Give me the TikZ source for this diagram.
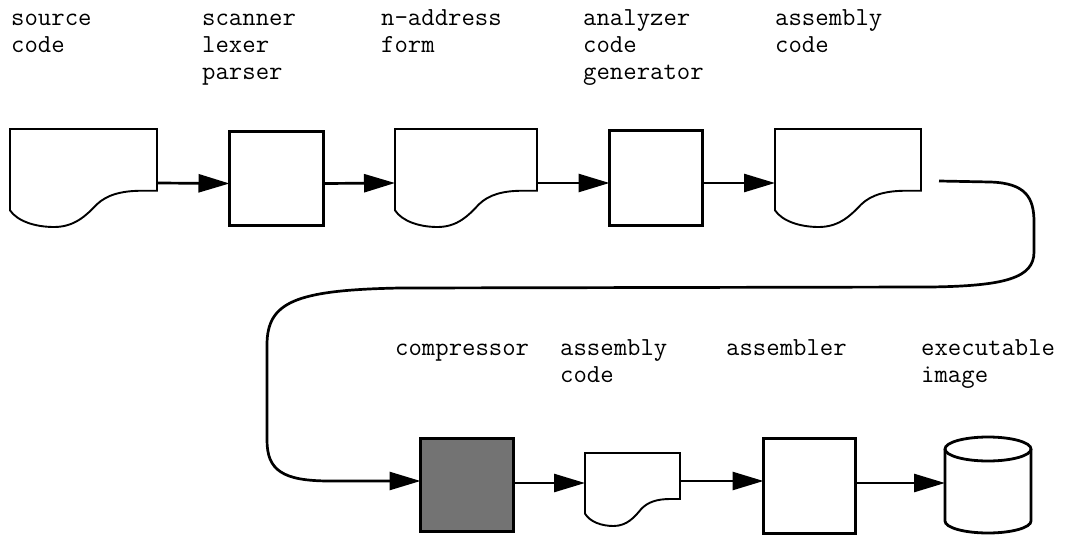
\documentclass[tikz,border=0pt]{standalone}
\usetikzlibrary{arrows.meta,calc}
\newcommand\docoutline[1]{%
\draw[docline] let \p1=(#1.north west), \p2=(#1.south east), \n1={\x2-\x1}, \n2={\y1-\y2} in
 (\x1,\y1) -- (\x2,\y1) -- (\x2,{\y1-0.63*\n2}) -- ({\x1+0.9*\n1},{\y1-0.63*\n2})
 .. controls ({\x1+0.76*\n1},{\y1-0.63*\n2}) and ({\x1+0.66*\n1},{\y1-0.67*\n2}) .. ({\x1+0.59*\n1},{\y1-0.77*\n2})
 .. controls ({\x1+0.52*\n1},{\y1-0.88*\n2}) and ({\x1+0.44*\n1},\y2) .. ({\x1+0.3*\n1},\y2)
 .. controls ({\x1+0.17*\n1},\y2) and ({\x1+0.05*\n1},{\y1-0.94*\n2}) .. (\x1,{\y1-0.83*\n2}) -- cycle;}
\begin{document}
\begin{tikzpicture}[x=1pt,y=-1pt,
  lbl/.style={anchor=base west, inner sep=0pt, align=left, font=\fontsize{26}{27.3}\selectfont\ttfamily},
  procbox/.style={draw, line width=3pt, inner sep=0pt, outer sep=0pt},
  docbox/.style={draw=none, inner sep=0pt, outer sep=0pt},
  docline/.style={line width=1.9pt, line join=miter},
  arr/.style={line width=2.7pt, -{Triangle[length=31pt,width=18pt]}}]
\useasboundingbox (0,0) rectangle (1071,538);

% labels top row (base = baseline of last line)
\node[lbl] (t1) at (11,52.3) {source\\code};
\node[lbl] (t2) at (202,79.6) {scanner\\lexer\\parser};
\node[lbl] (t3) at (381,52.3) {n-address\\form};
\node[lbl] (t4) at (583,79.6) {analyzer\\code\\generator};
\node[lbl] (t5) at (775,52.3) {assembly\\code};
% labels bottom row
\node[lbl] (t6) at (395,355) {compressor};
\node[lbl] (t7) at (560,382.3) {assembly\\code};
\node[lbl] (t8) at (726,355) {assembler};
\node[lbl] (t9) at (921,382.3) {executable\\image};

% top row shapes
\node[docbox, minimum width=147pt, minimum height=98pt] (d1) at (83.5,178) {};
\docoutline{d1}
\node[procbox, minimum width=94pt, minimum height=94pt] (b1) at (276.5,178.5) {};
\node[docbox, minimum width=142pt, minimum height=98pt] (d2) at (466,178) {};
\docoutline{d2}
\node[procbox, minimum width=93pt, minimum height=95pt] (b2) at (656,178) {};
\node[docbox, minimum width=146pt, minimum height=98pt] (d3) at (848,178) {};
\docoutline{d3}

% bottom row shapes
\node[procbox, fill=black!55, minimum width=93pt, minimum height=93pt] (comp) at (467,485) {};
\node[docbox, minimum width=95pt, minimum height=73pt] (d4) at (632.5,489.5) {};
\docoutline{d4}
\node[procbox, minimum width=92pt, minimum height=95pt] (b3) at (809.5,486) {};
\node[docbox, minimum width=86pt, minimum height=96pt] (cyl) at (988,485) {};
\draw[line width=2.8pt] ([yshift=-12pt]cyl.north) ellipse [x radius=43pt, y radius=12pt];
\draw[line width=2.8pt] ([yshift=-12pt]cyl.north west) -- ([yshift=12pt]cyl.south west)
  arc[start angle=180, end angle=360, x radius=43pt, y radius=12pt] -- ([yshift=-12pt]cyl.north east);

% connectors
\draw[arr] ([yshift=-5pt]d1.east) -- ([yshift=-5pt]b1.west);
\draw[arr] ([yshift=-5pt]b1.east) -- ([yshift=-5pt]d2.west);
\draw[arr] ([yshift=-5pt]d2.east) -- ([yshift=-5pt]b2.west);
\draw[arr] ([yshift=-5pt]b2.east) -- ([yshift=-5pt]d3.west);

\coordinate (cstart) at (939,181);
\draw[arr] (cstart) -- (990,182) .. controls (1026,183) and (1034,198) .. (1034,222)
  -- (1034,252) .. controls (1034,278) and (1005,286) .. (930,287)
  -- (400,288) .. controls (295,290) and (267,302) .. (267,345)
  -- (267,440) .. controls (267,470) and (282,481) .. (330,481)
  -- ([yshift=4pt]comp.west);

\draw[arr] ([yshift=2pt]comp.east) -- ([yshift=6.5pt]d4.west);
\draw[arr] ([yshift=8.5pt]d4.east) -- ([yshift=5pt]b3.west);
\draw[arr] ([yshift=3pt]b3.east) -- ([yshift=2pt]cyl.west);
\end{tikzpicture}
\end{document}
